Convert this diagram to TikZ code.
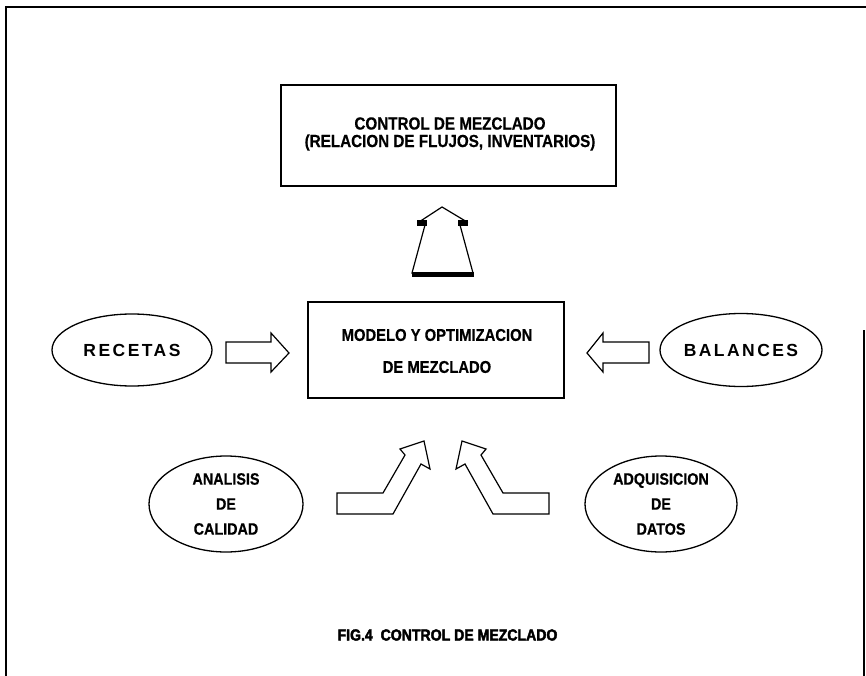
\documentclass[tikz,border=0pt]{standalone}
\usepackage{fontspec}
\setmainfont{Liberation Sans}
\newfontfamily\spacedfont{Liberation Sans Bold}[LetterSpace=14]
\newfontfamily\narrowbold{Liberation Sans Bold}[FakeStretch=0.87,FakeBold=0.5]
\newfontfamily\captionfont{Liberation Sans Bold}[FakeStretch=0.88,FakeBold=2.5]
\usetikzlibrary{shapes.geometric}
\begin{document}
\begin{tikzpicture}[x=1pt,y=-1pt,
  frameline/.style={line width=1.4pt},
  boxnode/.style={draw,line width=1.2pt,rectangle,inner sep=0pt},
  boxtext/.style={inner sep=0pt,align=center,font=\narrowbold\fontsize{17.5}{17.5}\selectfont},
  ovalnode/.style={draw,line width=1.3pt,ellipse,inner sep=0pt,align=center,
    font=\narrowbold\fontsize{16.5}{25}\selectfont},
  spacedoval/.style={ovalnode,font=\spacedfont\fontsize{17.5}{17.5}\selectfont},
  blockarrow/.style={draw,line width=1.2pt,line join=miter,fill=white},
  inkblob/.style={fill=black}]
\useasboundingbox (0,0) rectangle (866,676);

% outer frame (open at the bottom)
\draw[frameline] (6,676) -- (6,7) -- (866,7);
\draw[frameline] (864,330) -- (864,676);

% blocks
\node[boxnode,minimum width=335pt,minimum height=101pt] (control) at (448.5,135.5) {};
\node[boxtext] (controltext) at (450,134)
  {CONTROL DE MEZCLADO\\(RELACION DE FLUJOS, INVENTARIOS)};
\node[boxnode,minimum width=256pt,minimum height=96pt] (modelo) at (436,350) {};
\node[boxtext,font=\narrowbold\fontsize{17}{32}\selectfont] (modelotext) at (437,351)
  {MODELO Y OPTIMIZACION\\DE MEZCLADO};

% input ellipses
\node[spacedoval,minimum width=160pt,minimum height=72pt] (recetas) at (132,350) {RECETAS};
\node[spacedoval,minimum width=162pt,minimum height=73pt] (balances) at (741,350) {BALANCES};
\node[ovalnode,minimum width=154pt,minimum height=96pt] (calidad) at (226,504)
  {ANALISIS\\DE\\CALIDAD};
\node[ovalnode,minimum width=152pt,minimum height=96pt] (datos) at (661,504)
  {ADQUISICION\\DE\\DATOS};

% upward block arrow from the model to the blend control
\draw[blockarrow] (412,273) -- (425,225) -- (419,222) -- (442,207) -- (467,222)
  -- (460,225) -- (473,273) -- cycle;
\fill[inkblob] (417,220) rectangle (427,226);
\fill[inkblob] (458,220) rectangle (468,226);
\draw[line width=5pt] (412,274) -- (474,274);

% horizontal block arrows
\draw[blockarrow] (226,342) -- (271,342) -- (271,333) -- (289,353) -- (271,372)
  -- (271,363) -- (226,363) -- cycle;
\draw[blockarrow] (649,342) -- (603,342) -- (603,333) -- (587,353) -- (603,372)
  -- (603,363) -- (649,363) -- cycle;

% bent block arrows from below
\draw[blockarrow] (337,493) -- (383,493) -- (405,455) -- (400,449) -- (424,441)
  -- (430,469) -- (421,464) -- (393,514) -- (337,514) -- cycle;
\draw[blockarrow] (549,493) -- (503,493) -- (481,455) -- (486,449) -- (462,441)
  -- (456,469) -- (465,464) -- (493,514) -- (549,514) -- cycle;

% caption
\node[font=\captionfont\fontsize{16}{16}\selectfont,inner sep=0pt] (caption) at (447.5,635)
  {FIG.4\ \ CONTROL DE MEZCLADO};
\end{tikzpicture}
\end{document}
